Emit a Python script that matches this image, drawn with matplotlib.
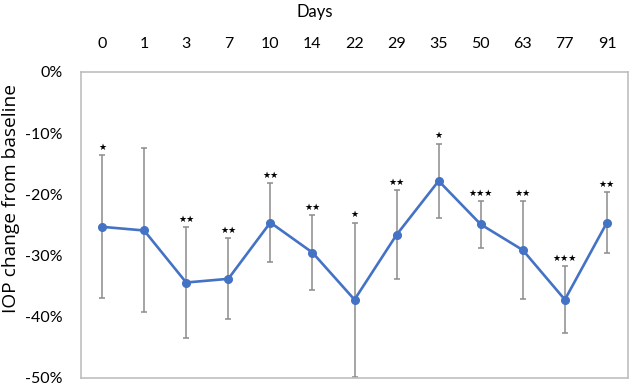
import matplotlib
matplotlib.use("Agg")
import matplotlib.pyplot as plt
from matplotlib.ticker import PercentFormatter

# IOP change from baseline (%), mean and SD per visit day
days = ["0", "1", "3", "7", "10", "14", "22", "29", "35", "50", "63", "77", "91"]
iop_change = [-25.3, -25.9, -34.4, -33.8, -24.6, -29.5, -37.2, -26.6, -17.8, -24.9, -29.1, -37.2, -24.6]
iop_sd = [11.7, 13.4, 9.0, 6.6, 6.4, 6.1, 12.6, 7.3, 6.1, 3.8, 8.0, 5.5, 5.0]
signif = ["*", "", "**", "**", "**", "**", "*", "**", "*", "***", "**", "***", "**"]

LINE_BLUE = "#4472C4"
ERR_GREY = "#8c8c8c"
FRAME_GREY = "#bfbfbf"

plt.rcParams["font.family"] = ["Lato", "DejaVu Sans"]
plt.rcParams["axes.unicode_minus"] = False

fig = plt.figure(figsize=(6.3, 3.87), dpi=100)
ax = fig.add_axes([0.1286, 0.0233, 0.8682, 0.7907])

x = range(len(days))
ax.errorbar(x, iop_change, yerr=iop_sd, fmt="none", ecolor=ERR_GREY,
            elinewidth=1.1, capsize=2.2, capthick=1.1, zorder=2)
ax.plot(x, iop_change, color=LINE_BLUE, lw=1.9, marker="o", ms=5.5, zorder=3)

for xi, m, s, label in zip(x, iop_change, iop_sd, signif):
    if label:
        ax.annotate("\u2605" * len(label), (xi, m + s), xytext=(0, 2.5),
                    textcoords="offset points", ha="center", va="bottom",
                    fontsize=6.5, family="DejaVu Sans", color="black")

ax.set_xlim(-0.5, len(days) - 0.5)
ax.set_ylim(-50, 0)
ax.set_yticks(range(-50, 1, 10))
ax.yaxis.set_major_formatter(PercentFormatter(decimals=0))
ax.set_xticks(list(x))
ax.set_xticklabels(days)
ax.xaxis.tick_top()
ax.tick_params(axis="x", length=0, pad=15, labelsize=11.5)
ax.tick_params(axis="y", length=0, pad=13, labelsize=11.5)

for side in ax.spines.values():
    side.set_color(FRAME_GREY)
    side.set_linewidth(1.2)

fig.text(0.017, 0.486, "IOP change from baseline", rotation=90,
         ha="center", va="center", fontsize=13.8, family="Open Sans")
fig.text(0.5, 0.969, "Days", ha="center", va="center", fontsize=12)

fig.savefig("out.png", dpi=100)
